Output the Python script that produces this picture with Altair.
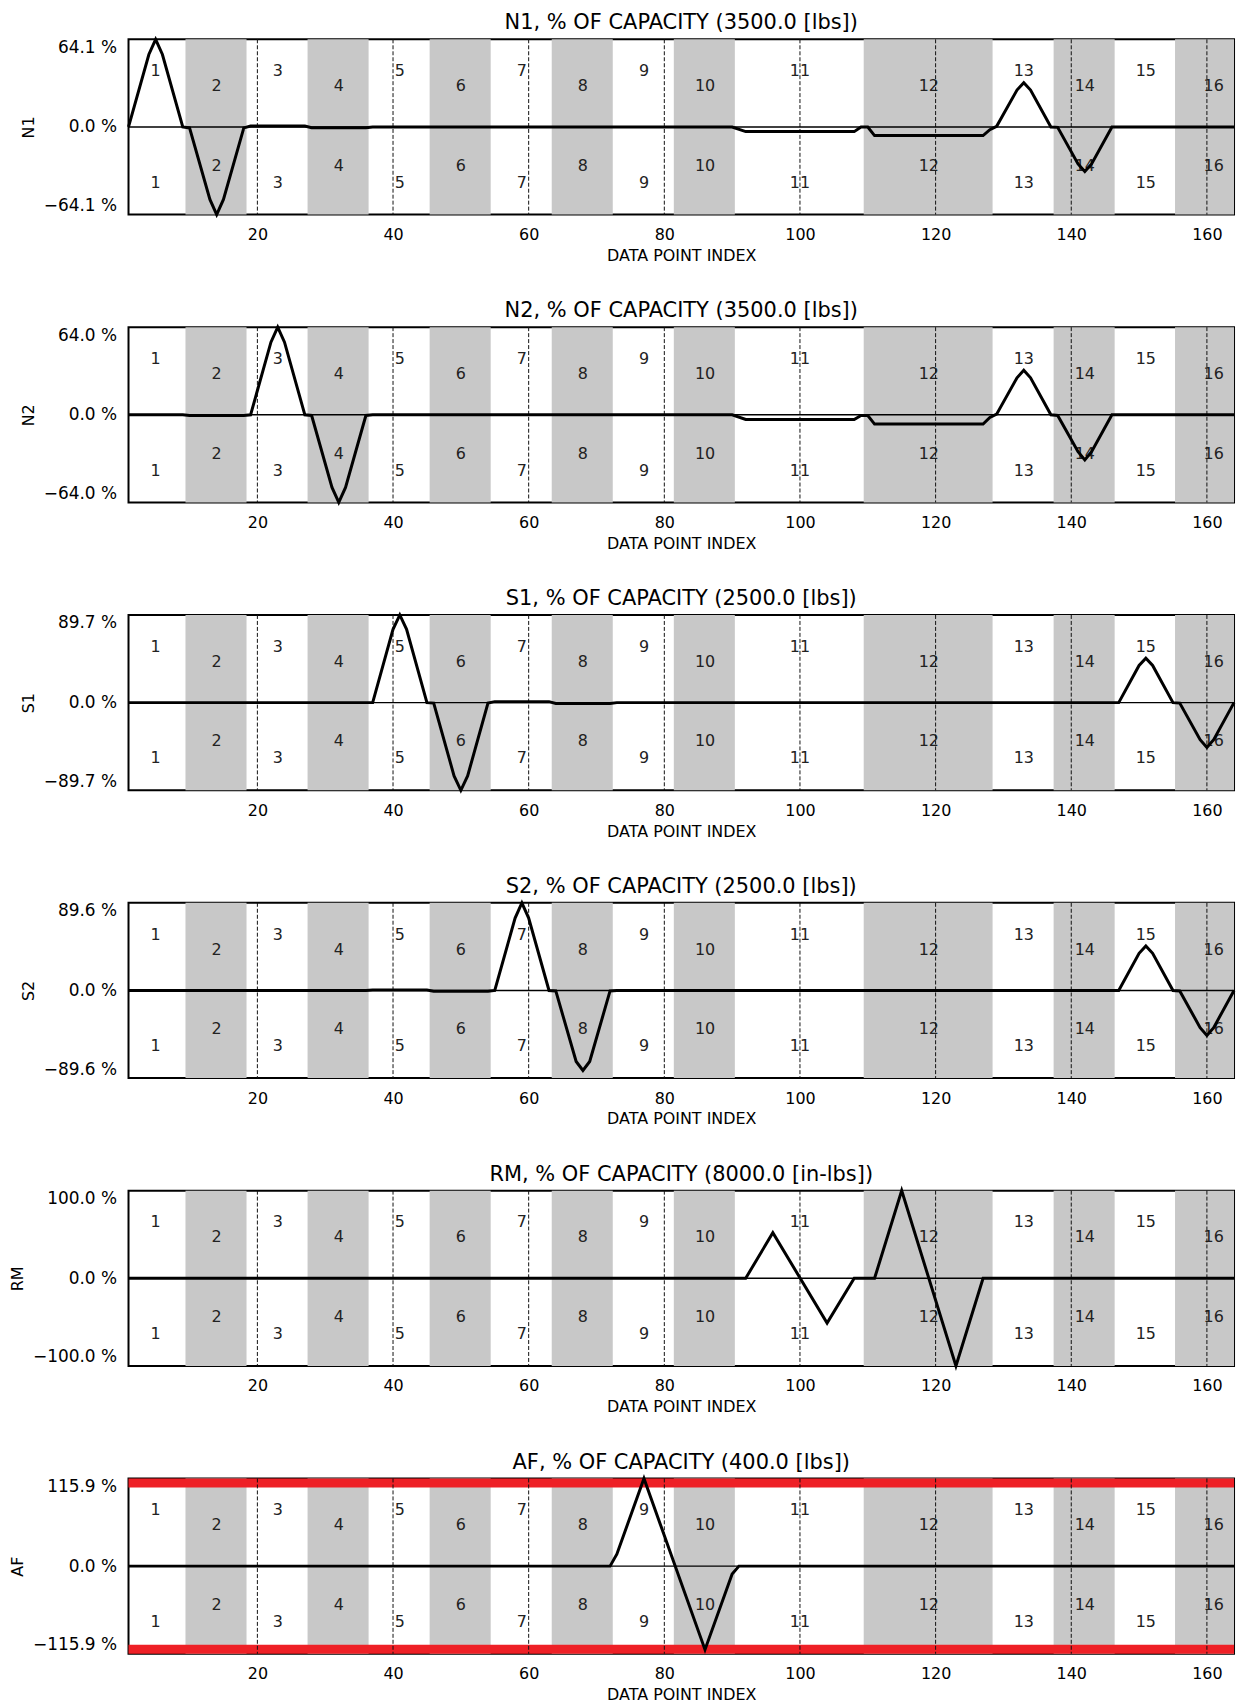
import altair as alt
import pandas as pd

# ---------------- data ----------------
x_domain = [1, 164]
x_ticks = [20, 40, 60, 80, 100, 120, 140, 160]

band_start = [9.4, 27.4, 45.4, 63.4, 81.4, 109.4, 137.4, 155.3]
band_end = [18.4, 36.4, 54.4, 72.4, 90.4, 128.4, 146.4, 164]

seg_labels = [str(i) for i in range(1, 17)]
seg_label_x = [5, 14, 23, 32, 41, 50, 59, 68, 77, 86, 100, 119, 133, 142, 151, 161]

panel_names = ["N1", "N2", "S1", "S2", "RM", "AF"]
panel_titles = [
    "N1, % OF CAPACITY (3500.0 [lbs])",
    "N2, % OF CAPACITY (3500.0 [lbs])",
    "S1, % OF CAPACITY (2500.0 [lbs])",
    "S2, % OF CAPACITY (2500.0 [lbs])",
    "RM, % OF CAPACITY (8000.0 [in-lbs])",
    "AF, % OF CAPACITY (400.0 [lbs])",
]
panel_limits = [64.1, 64.0, 89.7, 89.6, 100.0, 115.9]

n1_x = [1, 4, 5, 6, 9, 10, 13, 14, 15, 18, 19, 27, 28, 36, 37, 90, 92, 108, 109, 110, 111, 127, 128, 129, 132, 133, 134, 137, 138, 141, 142, 143, 146, 164]
n1_y = [0, 53, 64.1, 53, 0, -0.7, -53, -64.1, -53, -0.7, 0.7, 0.7, -0.5, -0.5, 0, 0, -3.4, -3.4, 0, 0, -6.3, -6.3, -2, 0.5, 27, 32.3, 27, 0, -0.3, -27, -32.5, -27, 0, 0]

n2_x = [1, 9, 10, 18, 19, 22, 23, 24, 27, 28, 31, 32, 33, 36, 37, 90, 92, 108, 109, 110, 111, 127, 128, 129, 132, 133, 134, 137, 138, 141, 142, 143, 146, 164]
n2_y = [0, 0, -0.5, -0.5, 0, 53, 64.0, 53, 0, -0.5, -53, -64.0, -53, -0.5, 0, 0, -3.4, -3.4, -0.5, -0.5, -6.8, -6.8, -2, 0.5, 27, 32.5, 27, 0, -0.5, -27, -33, -27, 0, 0]

s1_x = [1, 37, 40, 41, 42, 45, 46, 49, 50, 51, 54, 55, 63, 64, 72, 73, 147, 150, 151, 152, 155, 156, 159, 160, 161, 164]
s1_y = [0, 0, 75, 89.7, 75, 0, -0.5, -75, -89.7, -75, -0.5, 1.0, 1.0, -0.8, -0.8, 0, 0, 38, 45.5, 38, 0, -0.5, -38, -46, -38, 0]

s2_x = [1, 36, 37, 45, 46, 54, 55, 58, 59, 60, 63, 64, 67, 68, 69, 72, 73, 147, 150, 151, 152, 155, 156, 159, 160, 161, 164]
s2_y = [0, 0, 0.5, 0.5, -0.8, -0.8, 0, 74, 89.6, 74, 0, -0.5, -72.6, -81.8, -72.6, -0.5, 0, 0, 38, 45.5, 38, 0, -0.5, -38, -46, -38, 0]

rm_x = [1, 92, 96, 104, 108, 111, 115, 123, 127, 164]
rm_y = [0, 0, 52, -51, 0, 0, 100, -100, 0, 0]

af_x = [1, 72, 73, 77, 86, 90, 91, 164]
af_y = [0, 0, 15.8, 115.9, -110.5, -10.5, 0, 0]

af_limit_lo = [104.0, -115.9]
af_limit_hi = [115.9, -104.0]

series_x = [n1_x, n2_x, s1_x, s2_x, rm_x, af_x]
series_y = [n1_y, n2_y, s1_y, s2_y, rm_y, af_y]

# ---------------- style ----------------
FONT = "DejaVu Sans"
PW, PH = 1110, 176
GRAY = "#c8c8c8"
RED = "#ee2026"

bands_df = pd.DataFrame({"start": band_start, "end": band_end})
labels_df = pd.DataFrame({"x": seg_label_x, "t": seg_labels, "k": list(range(1, 17))})
odd_df = labels_df[labels_df.k % 2 == 1]
even_df = labels_df[labels_df.k % 2 == 0]
ticks_df = pd.DataFrame({"x": x_ticks})
zero_df = pd.DataFrame({"y": [0]})


def make_panel(i):
    lim = panel_limits[i]
    xs = alt.Scale(domain=x_domain, nice=False, zero=False)
    ys = alt.Scale(domain=[-lim, lim], nice=False, zero=False)
    xaxis = alt.Axis(values=x_ticks, title="DATA POINT INDEX", ticks=False, domain=False,
                     grid=False, labelPadding=12, titlePadding=5, labelFontSize=16,
                     titleFontSize=16, titleFontWeight="normal", labelFlush=False)
    yaxis = alt.Axis(values=[-lim, 0, lim], title=panel_names[i], ticks=False, domain=False,
                     grid=False, labelPadding=12, labelFlush=True, titlePadding=7,
                     titleFontSize=16, labelFontSize=17, titleFontWeight="normal",
                     labelExpr="(datum.value < 0 ? '\u2212' : '') + format(abs(datum.value), '.1f') + ' %'")

    def X(f):
        return alt.X(f, type="quantitative", scale=xs, axis=xaxis)

    def Y(f):
        return alt.Y(f, type="quantitative", scale=ys, axis=yaxis)

    layers = []
    layers.append(alt.Chart(bands_df).mark_rect(color=GRAY).encode(x=X("start"), x2="end"))
    if panel_names[i] == "AF":
        red_df = pd.DataFrame({"lo": af_limit_lo, "hi": af_limit_hi})
        layers.append(alt.Chart(red_df).mark_rect(color=RED).encode(y=Y("lo"), y2="hi"))
    txt = dict(font=FONT, fontSize=16, color="#222", align="center", baseline="middle")
    layers.append(alt.Chart(odd_df).mark_text(**txt).encode(x=X("x"), y=alt.value(32), text="t:N"))
    layers.append(alt.Chart(even_df).mark_text(**txt).encode(x=X("x"), y=alt.value(47), text="t:N"))
    layers.append(alt.Chart(even_df).mark_text(**txt).encode(x=X("x"), y=alt.value(127), text="t:N"))
    layers.append(alt.Chart(odd_df).mark_text(**txt).encode(x=X("x"), y=alt.value(144), text="t:N"))
    layers.append(alt.Chart(ticks_df).mark_rule(color="#111", strokeWidth=1, strokeDash=[4, 2]).encode(x=X("x")))
    layers.append(alt.Chart(zero_df).mark_rule(color="black", strokeWidth=1.4).encode(y=Y("y")))
    line_df = pd.DataFrame({"x": series_x[i], "y": series_y[i]})
    layers.append(alt.Chart(line_df).mark_line(color="black", strokeWidth=3).encode(x=X("x"), y=Y("y")))

    return alt.layer(*layers).properties(
        width=PW, height=PH,
        title=alt.TitleParams(panel_titles[i], fontSize=21, fontWeight="normal", font=FONT,
                              color="black", anchor="middle", offset=0),
    )


chart = alt.vconcat(*[make_panel(i) for i in range(6)], spacing=35).configure_view(
    stroke="black", strokeWidth=2
).configure_axis(
    labelFont=FONT, titleFont=FONT, labelColor="black", titleColor="black"
).properties(
    padding={"left": 0, "top": 0, "right": 0, "bottom": 0}
)

chart.save("out.html", embed_options={"renderer": "svg", "actions": False})
